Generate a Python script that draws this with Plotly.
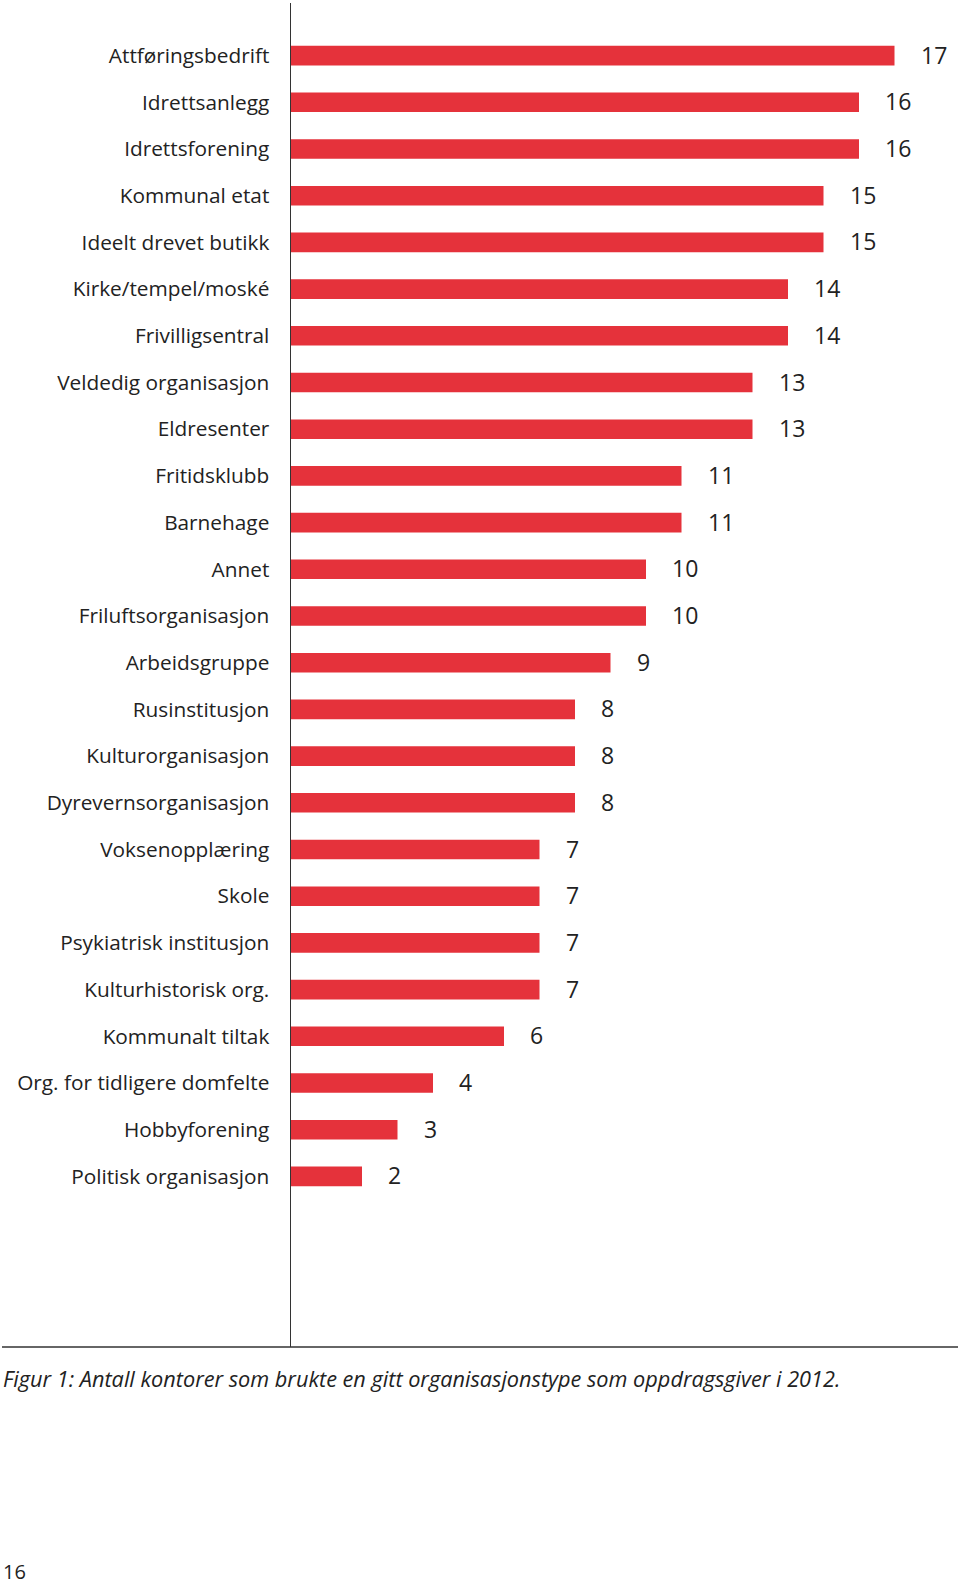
import plotly.graph_objects as go

categories = [
    "Attføringsbedrift", "Idrettsanlegg", "Idrettsforening", "Kommunal etat",
    "Ideelt drevet butikk", "Kirke/tempel/moské", "Frivilligsentral",
    "Veldedig organisasjon", "Eldresenter", "Fritidsklubb", "Barnehage", "Annet",
    "Friluftsorganisasjon", "Arbeidsgruppe", "Rusinstitusjon", "Kulturorganisasjon",
    "Dyrevernsorganisasjon", "Voksenopplæring", "Skole", "Psykiatrisk institusjon",
    "Kulturhistorisk org.", "Kommunalt tiltak", "Org. for tidligere domfelte",
    "Hobbyforening", "Politisk organisasjon",
]
values = [17, 16, 16, 15, 15, 14, 14, 13, 13, 11, 11, 10, 10, 9, 8, 8, 8, 7, 7, 7, 7, 6, 4, 3, 2]
caption = "Figur 1: Antall kontorer som brukte en gitt organisasjonstype som oppdragsgiver i 2012."
page_number = "16"

RED = "#E5323B"
FONT = "Open Sans"

fig = go.Figure()
fig.add_trace(go.Bar(
    x=values, y=categories, orientation="h",
    marker=dict(color=RED, line=dict(width=0)),
    width=0.42, hoverinfo="skip",
))

for c, v in zip(categories, values):
    fig.add_annotation(x=v, y=c, text=str(v), showarrow=False,
                       xanchor="left", yanchor="middle", xshift=24, yshift=1,
                       font=dict(family=FONT, size=23, color="#222"))

W, H = 960, 1587
L, R, T, B = 291, 5, 3, 240
pw = W - L - R
ph = H - T - B
unit = 35.5
row = 46.7
top_off = (55.6 - T) / row

fig.update_layout(
    width=W, height=H,
    margin=dict(l=L, r=R, t=T, b=B),
    paper_bgcolor="white", plot_bgcolor="white",
    showlegend=False,
    xaxis=dict(range=[0, pw / unit], visible=False, fixedrange=True),
    yaxis=dict(
        type="category",
        range=[-top_off + ph / row, -top_off],
        showline=True, linecolor="#333", linewidth=1.5,
        showgrid=False, zeroline=False,
        ticks="", ticklabelstandoff=16,
        tickfont=dict(family=FONT, size=20.8, color="#222"),
        fixedrange=True,
    ),
)

# bottom rule spanning nearly the full page width
fig.add_shape(type="line", xref="paper", yref="paper",
              x0=(2 - L) / pw, x1=(958 - L) / pw, y0=0, y1=0,
              line=dict(color="#333", width=1.5))

fig.add_annotation(xref="paper", yref="paper",
                   x=(1 - L) / pw, y=-(1378 - (H - B)) / ph,
                   text=caption, showarrow=False, xanchor="left", yanchor="middle",
                   font=dict(family=FONT, size=21.7, color="#222", style="italic"))
fig.add_annotation(xref="paper", yref="paper",
                   x=(1 - L) / pw, y=-(1572 - (H - B)) / ph,
                   text=page_number, showarrow=False, xanchor="left", yanchor="middle",
                   font=dict(family=FONT, size=20, color="#222"))

fig.write_html(
    "out.html",
    config={"displayModeBar": False, "staticPlot": True},
    post_script="document.body.style.margin='0';document.body.style.overflow='hidden';",
)
